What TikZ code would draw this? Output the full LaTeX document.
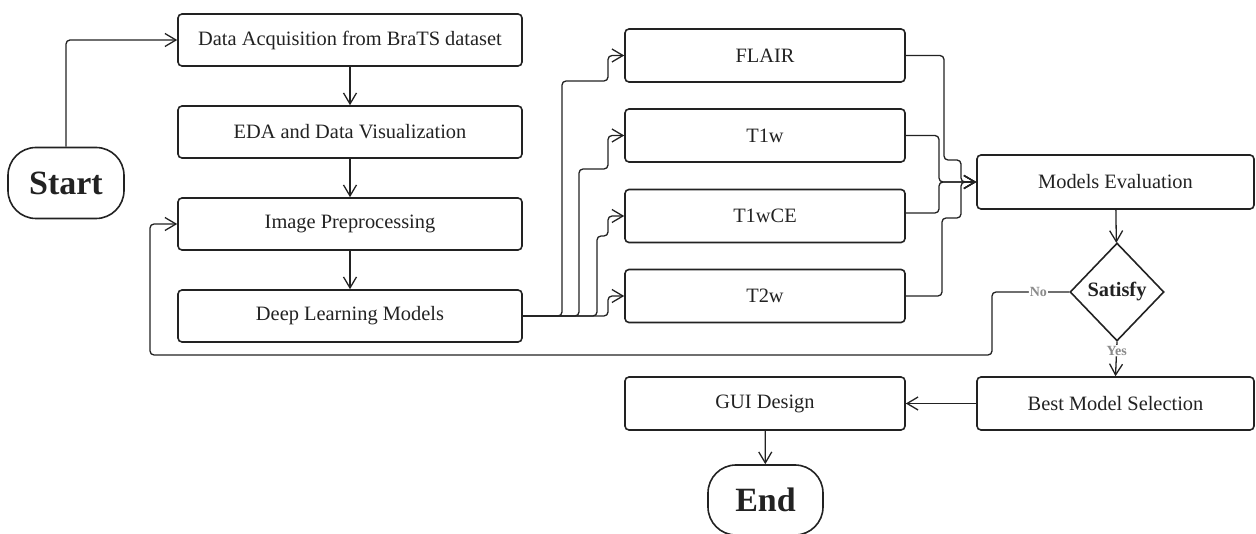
\documentclass[tikz,border=0pt]{standalone}
\usepackage{fontspec}
\setmainfont{Liberation Serif}
\usetikzlibrary{arrows.meta,shapes.geometric}
\definecolor{ink}{HTML}{222222}
\definecolor{lbl}{HTML}{8A8A8A}
\begin{document}
\begin{tikzpicture}[x=1pt,y=-1pt,
  box/.style={draw=ink, line width=1.6pt, rounded corners=4pt, minimum width=280pt, minimum height=53pt, inner sep=0pt,
    font=\fontsize{20.4}{24}\selectfont, text=ink},
  term/.style={draw=ink, line width=1.6pt, rounded corners=28pt, minimum width=116pt, minimum height=71pt, inner sep=0pt,
    font=\fontsize{34}{40}\selectfont\bfseries, text=ink},
  conn/.style={draw=ink, line width=1.3pt, rounded corners=4pt},
  arr/.style={conn, -{Straight Barb[length=11pt,width=13pt,line width=1.3pt]}},
  yn/.style={font=\fontsize{14}{16}\selectfont\bfseries, text=lbl, fill=white, inner sep=1pt}
]
\useasboundingbox (0,0) rectangle (1256,534);

% left column
\node[box, minimum width=344pt, minimum height=52pt] (da)  at (350,40)  {Data Acquisition from BraTS dataset};
\node[box, minimum width=344pt, minimum height=52pt] (eda) at (350,132) {EDA and Data Visualization};
\node[box, minimum width=344pt, minimum height=52pt] (ip)  at (350,224) {Image Preprocessing};
\node[box, minimum width=344pt, minimum height=52pt] (dl)  at (350,316) {Deep Learning Models};
\node[term] (start) at (66,183) {Start};

% modalities
\node[box] (flair) at (765,55.5)  {FLAIR};
\node[box] (t1w)   at (765,135.5) {T1w};
\node[box] (t1wce) at (765,216)   {T1wCE};
\node[box] (t2w)   at (765,296)   {T2w};

% right part
\node[box, minimum width=277pt, minimum height=54pt] (me) at (1115.5,182) {Models Evaluation};
\node[draw=ink, line width=1.6pt, diamond, minimum width=94pt, minimum height=98pt, inner sep=0pt,
  font=\fontsize{20.4}{24}\selectfont\bfseries, text=ink] (sat) at (1117,292) {Satisfy};
\node[box, minimum width=277pt] (bm)  at (1115.5,403.5) {Best Model Selection};
\node[box] (gui) at (765,403.5) {GUI Design};
\node[term, minimum width=115pt, minimum height=70pt] (end) at (765.5,500) {End};

% connectors
\draw[arr] (start.north) |- (da.west);
\draw[arr] (da) -- (eda);
\draw[arr] (eda) -- (ip);
\draw[arr] (ip) -- (dl);

\draw[arr] (dl.east) -- (562,316) -- (562,81) -- (608,81) -- (608,55.5) -- (flair.west);
\draw[arr] (dl.east) -- (579,316) -- (579,169) -- (608,169) -- (608,135.5) -- (t1w.west);
\draw[arr] (dl.east) -- (597,316) -- (597,236) -- (608,236) -- (608,216) -- (t1wce.west);
\draw[arr] (dl.east) -- (608,316) -- (608,296) -- (t2w.west);

\draw[arr] (flair.east) -- (944,55.5) -- (944,160) -- (961,160) -- (961,182) -- (me.west);
\draw[arr] (t1w.east) -- (939,135.5) -- (939,182) -- (me.west);
\draw[arr] (905,213) -- (939,213) -- (939,182) -- (me.west);
\draw[arr] (t2w.east) -- (942,296) -- (942,218) -- (961,218) -- (961,182) -- (me.west);

\draw[arr] (me) -- (sat);
\draw[arr] (sat.west) -- node[yn, pos=0.4] {No} (992,292) -- (992,355) -- (150,355) -- (150,224) -- (ip.west);
\draw[arr] (sat.south) -- node[yn, pos=0.26] {Yes} (bm.north);
\draw[arr] (bm) -- (gui);
\draw[arr] (gui) -- (end);
\end{tikzpicture}
\end{document}
